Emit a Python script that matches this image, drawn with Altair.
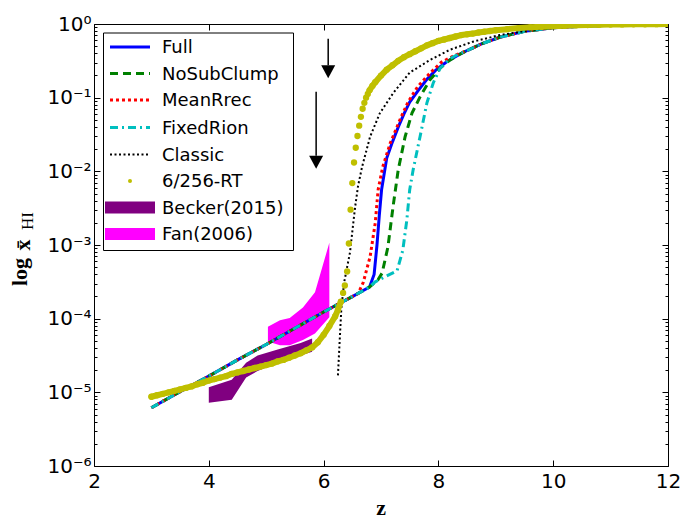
import altair as alt
import pandas as pd

# ---------------- data (log10 of x_HI) ----------------
base_z = [3.0, 3.5, 4.0, 4.5, 5.0, 5.5, 6.0, 6.5]
base_log = [-5.21, -4.99, -4.78, -4.56, -4.35, -4.13, -3.91, -3.70]

tail_z = [8.5, 8.75, 9.07, 9.5, 10.0, 10.5, 11.0, 11.5, 12.0]
tail_log = [-0.36, -0.27, -0.18, -0.10, -0.05, -0.03, -0.018, -0.01, -0.005]

full_z = base_z + [6.8, 6.88, 6.93, 6.97, 7.01, 7.1, 7.2, 7.3, 7.4, 7.5, 7.65, 7.8, 7.95, 8.15, 8.35] + tail_z
full_log = base_log + [-3.57, -3.40, -3.0, -2.6, -2.25, -1.82, -1.6, -1.40, -1.22, -1.06, -0.9, -0.75, -0.63, -0.51, -0.42] + tail_log

nosub_z = base_z + [6.8, 6.95, 7.02, 7.12, 7.21, 7.3, 7.42, 7.54, 7.68, 7.85, 8.03, 8.2, 8.35] + tail_z
nosub_log = base_log + [-3.57, -3.47, -3.38, -3.03, -2.48, -1.98, -1.53, -1.21, -0.99, -0.76, -0.6, -0.49, -0.42] + tail_log

meanrrec_z = base_z + [6.6, 6.69, 6.81, 6.9, 6.95, 7.03, 7.16, 7.33, 7.47, 7.64, 7.85, 8.05, 8.3] + tail_z
meanrrec_log = base_log + [-3.66, -3.51, -3.16, -2.7, -2.25, -1.94, -1.62, -1.3, -1.06, -0.85, -0.67, -0.52, -0.42] + tail_log

fixedrion_z = base_z + [6.8, 6.9, 7.1, 7.28, 7.38, 7.45, 7.5, 7.56, 7.68, 7.8, 7.91, 8.03, 8.2, 8.35] + tail_z
fixedrion_log = base_log + [-3.57, -3.5, -3.42, -3.35, -3.07, -2.66, -2.25, -1.98, -1.53, -1.07, -0.8, -0.6, -0.47, -0.41] + tail_log

classic_z = [6.25, 6.28, 6.31, 6.36, 6.41, 6.46, 6.51, 6.55, 6.6, 6.67, 6.81, 6.98, 7.21, 7.5,
             7.85, 8.2, 8.6, 9.07, 9.65, 10.0, 10.5, 11.0, 11.5, 12.0]
classic_log = [-4.77, -4.3, -3.85, -3.5, -3.3, -3.1, -2.75, -2.48, -2.2, -1.94, -1.53, -1.21, -0.94, -0.66,
               -0.49, -0.35, -0.24, -0.15, -0.08, -0.05, -0.03, -0.018, -0.01, -0.005]

rt_z = [3.0, 3.1, 3.2, 3.3, 3.4, 3.5, 3.6, 3.7, 3.8, 3.9, 4.0, 4.1, 4.2, 4.3, 4.4, 4.5, 4.6, 4.7, 4.8, 4.9,
        5.0, 5.1, 5.2, 5.3, 5.4, 5.5, 5.6, 5.7, 5.8, 5.9, 6.0, 6.1, 6.2, 6.25, 6.3,
        6.34, 6.37, 6.41, 6.44, 6.47, 6.5, 6.53, 6.56, 6.59, 6.62, 6.65, 6.68, 6.71, 6.74, 6.77,
        6.8, 6.85, 6.9, 7.0, 7.1, 7.2, 7.3, 7.4, 7.5, 7.6, 7.7, 7.8, 7.9, 8.0, 8.1, 8.2, 8.3, 8.4,
        8.5, 8.6, 8.7, 8.8, 8.9, 9.0, 9.2, 9.4, 9.6, 9.8, 10.0, 10.2, 10.4, 10.6, 10.8, 11.0, 11.2,
        11.4, 11.6, 11.8, 12.0]
rt_log = [-5.06, -5.04, -5.02, -5.0, -4.98, -4.96, -4.94, -4.92, -4.89, -4.87, -4.84, -4.82, -4.80, -4.78,
          -4.75, -4.73, -4.71, -4.69, -4.67, -4.65, -4.63, -4.61, -4.58, -4.56, -4.53, -4.5, -4.47, -4.43,
          -4.39, -4.32, -4.22, -4.1, -3.97, -3.88, -3.77,
          -3.65, -3.55, -3.36, -2.98, -2.52, -2.16, -1.88, -1.68, -1.52, -1.38, -1.26, -1.15, -1.07, -1.0, -0.95,
          -0.9, -0.84, -0.79, -0.7, -0.62, -0.56, -0.5, -0.45, -0.41, -0.37, -0.33, -0.29, -0.26, -0.23,
          -0.21, -0.19, -0.17, -0.15, -0.14, -0.13, -0.115, -0.105, -0.095, -0.085, -0.07, -0.055, -0.045,
          -0.036, -0.029, -0.023, -0.018, -0.014, -0.011, -0.008, -0.006, -0.004, -0.003, -0.002, -0.001]

becker_z = [4.0, 4.4, 4.65, 4.85, 5.2, 5.6, 5.8]
becker_lo = [-5.14, -5.10, -4.80, -4.71, -4.60, -4.50, -4.45]
becker_hi = [-4.93, -4.83, -4.60, -4.50, -4.42, -4.33, -4.27]

fan_z = [5.03, 5.24, 5.41, 5.64, 5.85, 6.1]
fan_lo = [-4.31, -4.36, -4.36, -4.29, -4.2, -3.98]
fan_hi = [-4.11, -4.02, -3.99, -3.85, -3.64, -2.97]

arrow_z = [6.08, 5.87]
arrow_top = [-0.2, -0.92]
arrow_base = [-0.56, -1.79]

legend_labels = ["Full", "NoSubClump", "MeanRrec", "FixedRion", "Classic", "6/256-RT", "Becker(2015)", "Fan(2006)"]

x_ticks = [2, 4, 6, 8, 10, 12]
y_major = [1e-6, 1e-5, 1e-4, 1e-3, 1e-2, 1e-1, 1.0]
y_minor = [k * 10.0 ** e for e in range(-6, 0) for k in range(2, 10)]

# ---------------- helpers ----------------
def sdf(z, lg):
    return pd.DataFrame({"z": z, "v": [10.0 ** x for x in lg]})

XS = alt.Scale(domain=[2, 12], nice=False, zero=False)
YS = alt.Scale(type="log", domain=[1e-6, 1], nice=False)

common = dict(title=None, grid=False, domain=False, tickColor="black", tickWidth=1,
              labelColor="black", labelFont="DejaVu Sans", labelFontSize=20)
sup_expr = ("'10' + (datum.value < 0.5 ? '\u207b' : '') + substring('\u2070\u00b9\u00b2\u00b3\u2074\u2075\u2076', "
            "abs(round(log(datum.value)/LN10)), abs(round(log(datum.value)/LN10)) + 1)")

ax_x_bottom = alt.Axis(orient="bottom", values=x_ticks, tickSize=6, offset=-6, labelPadding=5,
                       labelFlush=False, **common)
ax_x_top = alt.Axis(orient="top", values=x_ticks, tickSize=6, offset=-6, labels=False, **common)
ax_y_left = alt.Axis(orient="left", values=y_major, tickSize=6, offset=-6, labelPadding=3,
                     labelExpr=sup_expr, labelFlush=False, labelOverlap=False, **common)
ax_y_right = alt.Axis(orient="right", values=y_major, tickSize=6, offset=-6, labels=False, **common)
ax_y_left_minor = alt.Axis(orient="left", values=y_minor, tickSize=3, offset=-3, labels=False, **common)
ax_y_right_minor = alt.Axis(orient="right", values=y_minor, tickSize=3, offset=-3, labels=False, **common)


def line_layer(z, lg, color, width, dash=None, xaxis=None, yaxis=None):
    kw = dict(color=color, strokeWidth=width, clip=True)
    if dash is not None:
        kw["strokeDash"] = dash
    return alt.Chart(sdf(z, lg)).mark_line(**kw).encode(
        x=alt.X("z:Q", scale=XS, axis=xaxis),
        y=alt.Y("v:Q", scale=YS, axis=yaxis),
        order="z:Q",
    )


def band_layer(z, lo, hi, color):
    df = pd.DataFrame({"z": z, "lo": [10.0 ** x for x in lo], "hi": [10.0 ** x for x in hi]})
    return alt.Chart(df).mark_area(color=color, opacity=1, clip=True).encode(
        x=alt.X("z:Q", scale=XS, axis=None),
        y=alt.Y("lo:Q", scale=YS, axis=None),
        y2="hi:Q",
    )


BLUE, GREEN, RED, CYAN, BLACK, YEL = "#0000ff", "#008000", "#ff0000", "#00bfbf", "#000000", "#bfbf00"
PURPLE, MAGENTA = "#800080", "#ff00ff"

layers = []
layers.append(band_layer(becker_z, becker_lo, becker_hi, PURPLE))
layers.append(band_layer(fan_z, fan_lo, fan_hi, MAGENTA))
layers.append(line_layer(full_z, full_log, BLUE, 3, None, ax_x_bottom, ax_y_left))
layers.append(line_layer(nosub_z, nosub_log, GREEN, 3, [8, 5], ax_x_top, ax_y_right))
layers.append(line_layer(meanrrec_z, meanrrec_log, RED, 3, [3, 3], None, ax_y_left_minor))
layers.append(line_layer(fixedrion_z, fixedrion_log, CYAN, 3, [8, 4, 2, 4], None, ax_y_right_minor))
layers.append(line_layer(classic_z, classic_log, BLACK, 2, [2, 2.5]))

rt = sdf(rt_z, rt_log)
rt["seg"] = ["a" if z <= 6.3 else ("b" if z >= 6.8 else "gap") for z in rt_z]
layers.append(
    alt.Chart(rt).transform_filter("datum.seg != 'gap'").mark_line(
        color=YEL, strokeWidth=6, strokeCap="round", strokeJoin="round", clip=True
    ).encode(
        x=alt.X("z:Q", scale=XS, axis=None),
        y=alt.Y("v:Q", scale=YS, axis=None),
        detail="seg:N",
        order="z:Q",
    )
)
layers.append(
    alt.Chart(rt).mark_circle(color=YEL, size=40, opacity=1, clip=True).encode(
        x=alt.X("z:Q", scale=XS, axis=None),
        y=alt.Y("v:Q", scale=YS, axis=None),
    )
)

arr = pd.DataFrame({"z": arrow_z, "top": [10.0 ** x for x in arrow_top], "base": [10.0 ** x for x in arrow_base]})
layers.append(
    alt.Chart(arr).mark_rule(color="black", strokeWidth=1.5).encode(
        x=alt.X("z:Q", scale=XS, axis=None),
        y=alt.Y("top:Q", scale=YS, axis=None),
        y2="base:Q",
    )
)
layers.append(
    alt.Chart(arr).mark_point(shape="M-1,0L1,0L0,1.85Z", size=196, filled=True, color="black", opacity=1).encode(
        x=alt.X("z:Q", scale=XS, axis=None),
        y=alt.Y("base:Q", scale=YS, axis=None),
    )
)

# ---------------- legend (drawn by hand, pixel layout) ----------------
one = pd.DataFrame({"k": [0]})
layers.append(
    alt.Chart(one).mark_rect(fill="white", stroke="black", strokeWidth=1).encode(
        x=alt.value(9.5), x2=alt.value(199.5), y=alt.value(9), y2=alt.value(226.5)
    )
)
row_y = [23, 49.5, 76, 103.5, 130.5, 157, 183.5, 210]
line_styles = [
    (BLUE, 3, None), (GREEN, 3, [8, 5]), (RED, 3, [3, 3]), (CYAN, 3, [8, 4, 2, 4]), (BLACK, 2, [2, 2.5]),
]
for i, (c, w, d) in enumerate(line_styles):
    kw = dict(color=c, strokeWidth=w)
    if d is not None:
        kw["strokeDash"] = d
    layers.append(
        alt.Chart(one).mark_rule(**kw).encode(x=alt.value(16), x2=alt.value(56), y=alt.value(row_y[i]))
    )
layers.append(
    alt.Chart(one).mark_circle(color=YEL, size=16, opacity=1).encode(x=alt.value(36), y=alt.value(row_y[5]))
)
for i, c in [(6, PURPLE), (7, MAGENTA)]:
    layers.append(
        alt.Chart(one).mark_rect(color=c).encode(
            x=alt.value(11), x2=alt.value(61), y=alt.value(row_y[i] - 6), y2=alt.value(row_y[i] + 6)
        )
    )
for i, lab in enumerate(legend_labels):
    layers.append(
        alt.Chart(one).mark_text(align="left", baseline="middle", font="DejaVu Sans", fontSize=18,
                                 color="black").encode(
            x=alt.value(68), y=alt.value(row_y[i] + 1), text=alt.value(lab)
        )
    )

# ---------------- axis titles ----------------
serif = "Liberation Serif"
layers.append(
    alt.Chart(one).mark_text(font=serif, fontWeight="bold", fontSize=22, align="center",
                             baseline="alphabetic", color="black").encode(
        x=alt.value(287), y=alt.value(491), text=alt.value("z")
    )
)
layers.append(
    alt.Chart(one).mark_text(font=serif, fontWeight="bold", fontSize=22, align="center", angle=270,
                             baseline="alphabetic", color="black").encode(
        x=alt.value(-67), y=alt.value(248), text=alt.value("log")
    )
)
layers.append(
    alt.Chart(one).mark_text(font=serif, fontWeight="bold", fontSize=22, align="center", angle=270,
                             baseline="alphabetic", color="black").encode(
        x=alt.value(-64), y=alt.value(221), text=alt.value("x\u0304")
    )
)
layers.append(
    alt.Chart(one).mark_text(font=serif, fontWeight="normal", fontSize=17, align="center", angle=270,
                             baseline="alphabetic", color="black").encode(
        x=alt.value(-61), y=alt.value(197), text=alt.value("HI")
    )
)

chart = alt.layer(*layers).properties(
    width=574,
    height=442,
    padding={"left": 94, "top": 24, "right": 15, "bottom": 55},
    autosize=alt.AutoSizeParams(type="none"),
    background="white",
).configure_view(stroke="black", strokeWidth=1)

chart.save("out.html", embed_options={"renderer": "svg", "actions": False})
